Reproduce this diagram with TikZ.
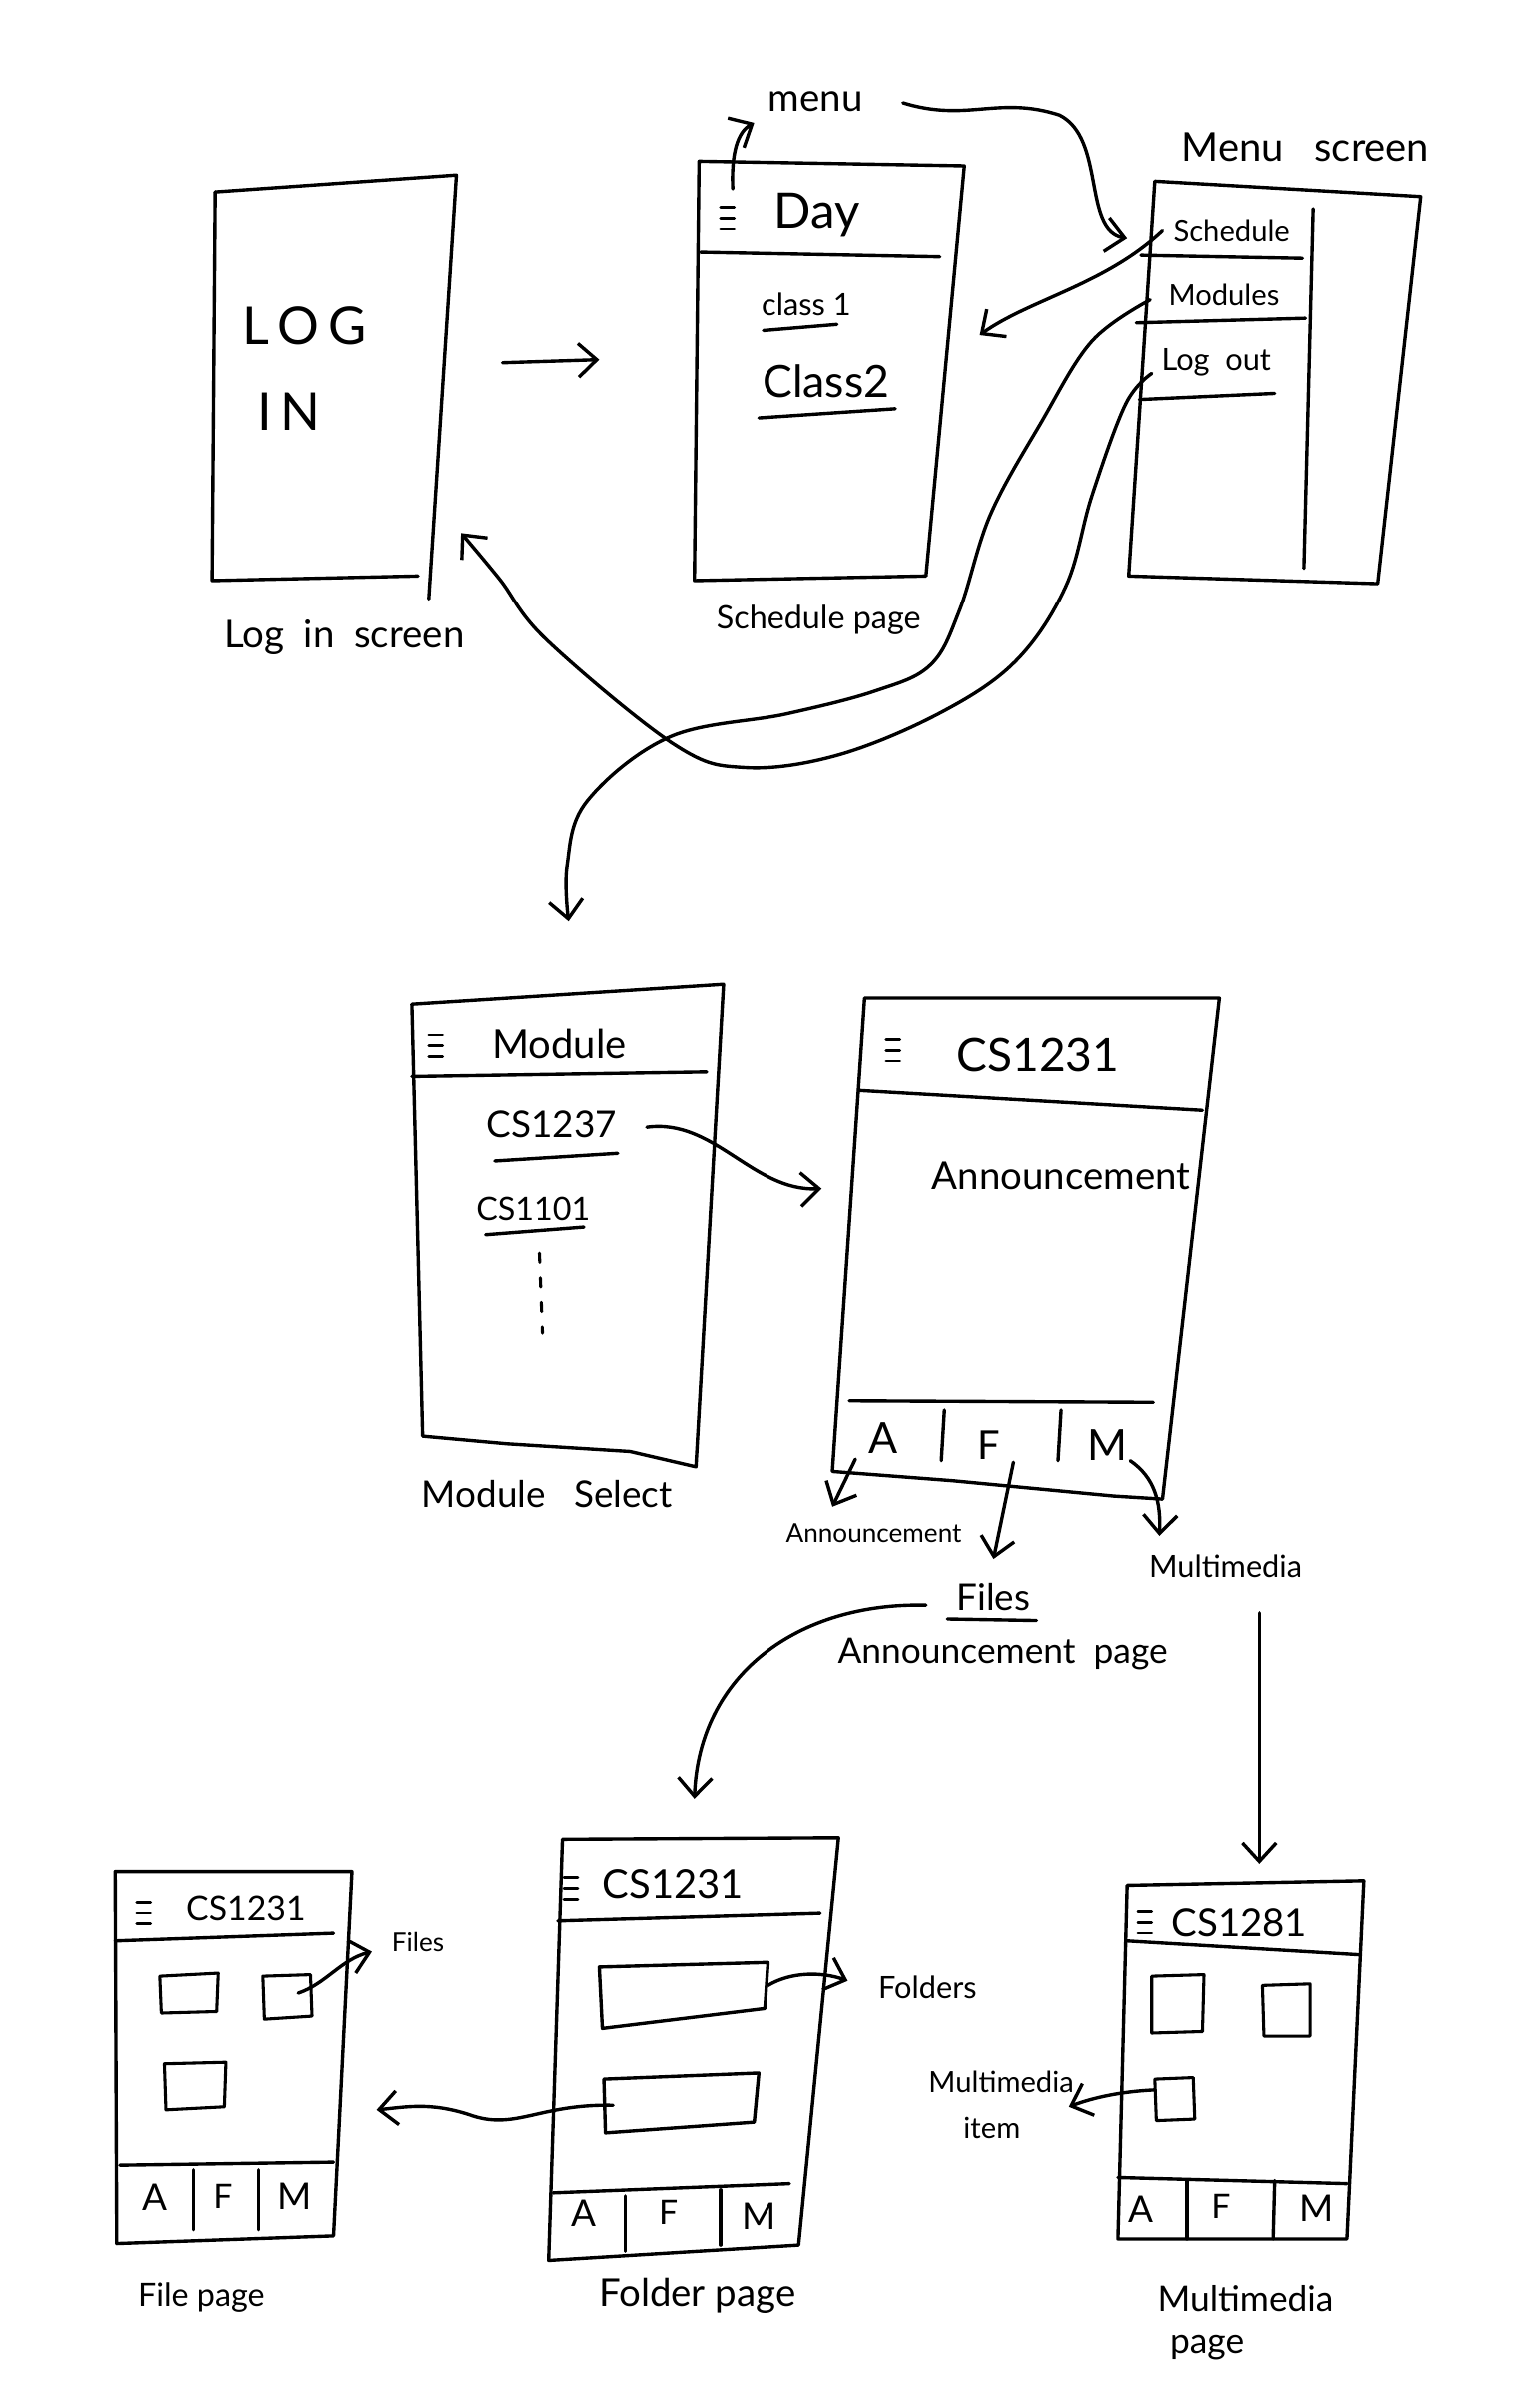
\documentclass[tikz,border=0pt]{standalone}
\usepackage{fontspec}
\setmainfont{Lato}
\usetikzlibrary{arrows.meta}
\begin{document}
\begin{tikzpicture}[x=0.5pt,y=-0.5pt,line width=1.1pt,line cap=round,line join=round,
  arr/.style={-{Straight Barb[length=6pt,width=11pt,line width=1.1pt]}},
  txt/.style={inner sep=0pt,anchor=center},
  fs/.style={font=\fontsize{#1}{#1}\selectfont},
  hamb/.pic={\draw[line width=0.9pt] (-4,-7)--(5,-7) (-4,0)--(5,0) (-4,7)--(5,7);},
  thin/.style={line width=1pt}]
\useasboundingbox[fill=white] (0,0) rectangle (999,1568);

% ---------- Log in screen ----------
\draw (140,125) -- (297,114) -- (279,390);
\draw (140,125) -- (138,378) -- (272,375);
\node[txt,fs=17] (log) at (198,212) {L\,O\,G};
\node[txt,fs=17] (in) at (188,268) {I\,N};
\node[txt,fs=12.5] (loginlbl) at (224,415) {Log\ \ in\ \ screen};

\coordinate (la1) at (327,236);
\coordinate (la2) at (390,234);
\draw[arr] (la1) -- (la2);

% ---------- Schedule page ----------
\draw (455,105) -- (628,108) -- (603,375) -- (452,378) -- cycle;
\draw (456,164) -- (612,167);
\pic at (473,142) {hamb};
\node[txt,fs=16] (day) at (532,140) {Day};
\node[txt,fs=10] (c1) at (525,198) {class 1};
\draw (497,215) -- (545,211);
\node[txt,fs=14.5] (c2) at (538,248) {Class2};
\draw (494,272) -- (583,266);
\node[txt,fs=10.5] (schedlbl) at (533,404) {Schedule page};

\node[txt,fs=12.5] (menulbl) at (531,66) {menu};
\coordinate (mh) at (477,123);
\coordinate (mt) at (491,80);
\draw[arr] (mh) .. controls (476,100) and (480,86) .. (mt);

\coordinate (mm1) at (588,67);
\coordinate (mm2) at (734,155);
\draw[arr] (mm1) .. controls (630,80) and (650,62) .. (690,75) .. controls (720,90) and (705,150) .. (mm2);

% ---------- Menu screen ----------
\draw (752,118) -- (925,128) -- (897,380) -- (735,375) -- cycle;
\draw (855,136) -- (849,370);
\node[txt,fs=9.5] (ms1) at (802,150) {Schedule};
\draw (743,166) -- (848,168);
\node[txt,fs=9.5] (ms2) at (797,192) {Modules};
\draw (740,210) -- (850,207);
\node[txt,fs=10] (ms3) at (792,236) {Log\ \ out};
\draw (742,260) -- (830,256);
\node[txt,fs=13] (menuscr) at (850,96) {Menu\ \ \ screen};

\coordinate (s1) at (757,150);
\coordinate (s2) at (638,218);
\draw[arr] (s1) .. controls (720,185) and (670,195) .. (s2);

\coordinate (md1) at (749,195);
\coordinate (md2) at (370,600);
\draw[arr] plot[smooth,tension=0.6] coordinates {(md1) (711,222) (678,275) (645,335) (625,397) (606,433) (570,450) (512,465) (436,480) (382,522) (369,564) (md2)};

\coordinate (lo1) at (750,243);
\coordinate (lo2) at (300,347);
\draw[arr] plot[smooth,tension=0.6] coordinates {(lo1) (733,263) (711,323) (694,382) (661,431) (611,465) (545,492) (485,500) (439,485) (356,417) (325,377) (lo2)};

% ---------- Module select ----------
\draw (268,654) -- (471,641) -- (453,955) -- (410,945) -- (330,940) -- (275,935) -- cycle;
\draw (268,701) -- (460,698);
\pic at (283,681) {hamb};
\node[txt,fs=13] (modh) at (364,680) {Module};
\node[txt,fs=12] (cs1237) at (359,732) {CS1237};
\draw (322,756) -- (402,751);
\node[txt,fs=10.5] (cs1101) at (347,787) {CS1101};
\draw (316,804) -- (380,799);
\draw[line width=1pt,dash pattern=on 3pt off 5pt] (351,816) -- (353,868);
\node[txt,fs=12] (modsel) at (356,973) {Module\ \ \ Select};

\coordinate (ca1) at (421,734);
\coordinate (ca2) at (535,774);
\draw[arr] (ca1) .. controls (465,728) and (490,776) .. (ca2);

% ---------- Announcement page ----------
\draw (563,650) -- (794,650) -- (757,976) -- (725,974) -- (620,964) -- (542,958) -- cycle;
\draw (559,710) -- (783,723);
\pic at (581,684) {hamb};
\node[txt,fs=15] (acs) at (676,687) {CS1231};
\node[txt,fs=12.5] (ann) at (691,766) {Announcement};
\draw (553,912) -- (751,913);
\draw (615,918) -- (613,951);
\draw (691,918) -- (689,951);
\node[txt,fs=14] (aA) at (575,936) {A};
\node[txt,fs=13] (aF) at (644,941) {F};
\node[txt,fs=14] (aM) at (721,941) {M};

\coordinate (aa1) at (557,950);
\coordinate (aa2) at (542,981);
\draw[arr] (aa1) -- (aa2);
\coordinate (af1) at (660,952);
\coordinate (af2) at (647,1015);
\draw[arr] (af1) -- (af2);
\coordinate (am1) at (736,951);
\coordinate (am2) at (755,1000);
\draw[arr] (am1) .. controls (752,962) and (756,978) .. (am2);

\node[txt,fs=8.5] (annsmall) at (569,998) {Announcement};
\node[txt,fs=10] (multsmall) at (798,1020) {Multimedia};
\node[txt,fs=12] (files) at (647,1040) {Files};
\draw (617,1054) -- (675,1055);
\node[txt,fs=11.5] (annpage) at (653,1077) {Announcement\ \ page};

\coordinate (fp1) at (603,1045);
\coordinate (fp2) at (452,1171);
\draw[arr] (fp1) .. controls (520,1043) and (455,1090) .. (fp2);

\coordinate (mp1) at (820,1050);
\coordinate (mp2) at (820,1214);
\draw[arr] (mp1) -- (mp2);

% ---------- File page ----------
\draw (75,1219) -- (229,1219) -- (217,1456) -- (76,1461) -- cycle;
\draw (75,1264) -- (217,1259);
\pic at (93,1246) {hamb};
\node[txt,fs=11] (fcs) at (160,1243) {CS1231};
\draw[thin] (104,1287) -- (142,1285) -- (141,1310) -- (105,1311) -- cycle;
\draw[thin] (171,1287) -- (202,1286) -- (203,1313) -- (172,1315) -- cycle;
\draw[thin] (107,1344) -- (147,1343) -- (146,1372) -- (108,1374) -- cycle;
\draw (78,1410) -- (217,1408);
\draw (126,1413) -- (126,1452);
\draw (168,1413) -- (168,1452);
\node[txt,fs=12] (fA) at (101,1431) {A};
\node[txt,fs=11] (fF) at (145,1430) {F};
\node[txt,fs=12] (fM) at (192,1430) {M};
\coordinate (ff1) at (194,1298);
\coordinate (ff2) at (242,1271);
\draw[arr] (ff1) .. controls (212,1292) and (222,1276) .. (ff2);
\node[txt,fs=8.5] (fileslbl) at (272,1265) {Files};
\node[txt,fs=10.5] (filepage) at (131,1496) {File\ page};

% ---------- Folder page ----------
\draw (366,1198) -- (546,1197) -- (520,1462) -- (357,1472) -- cycle;
\draw (363,1251) -- (534,1246);
\pic at (371,1230) {hamb};
\node[txt,fs=13] (focs) at (438,1227) {CS1231};
\draw (390,1281) -- (500,1278) -- (498,1308) -- (392,1321) -- cycle;
\draw (393,1354) -- (494,1350) -- (491,1382) -- (394,1389) -- cycle;
\draw (360,1428) -- (514,1422);
\draw (407,1430) -- (407,1466);
\draw (469,1426) -- (469,1462);
\node[txt,fs=12] (foA) at (380,1441) {A};
\node[txt,fs=11] (foF) at (435,1441) {F};
\node[txt,fs=12] (foM) at (494,1443) {M};
\coordinate (fo1) at (500,1293);
\coordinate (fo2) at (552,1290);
\draw[arr] (fo1) .. controls (515,1284) and (535,1284) .. (fo2);
\node[txt,fs=10] (folderslbl) at (604,1294) {Folders};
\coordinate (fl1) at (399,1371);
\coordinate (fl2) at (245,1374);
\draw[arr] (fl1) .. controls (350,1370) and (335,1388) .. (305,1377) .. controls (280,1369) and (265,1372) .. (fl2);
\node[txt,fs=12.5] (folderpage) at (454,1495) {Folder\ page};

% ---------- Multimedia page ----------
\draw (734,1228) -- (888,1225) -- (877,1458) -- (728,1458) -- cycle;
\draw (734,1264) -- (885,1273);
\pic at (745,1252) {hamb};
\node[txt,fs=12.5] (mcs) at (807,1252) {CS1281};
\draw[thin] (750,1287) -- (784,1286) -- (783,1323) -- (750,1324) -- cycle;
\draw[thin] (822,1293) -- (853,1292) -- (853,1326) -- (823,1326) -- cycle;
\draw[thin] (752,1354) -- (777,1353) -- (778,1380) -- (753,1381) -- cycle;
\draw (728,1418) -- (877,1422);
\draw (773,1420) -- (773,1458);
\draw (830,1420) -- (829,1458);
\node[txt,fs=12] (mA) at (743,1439) {A};
\node[txt,fs=11] (mF) at (795,1437) {F};
\node[txt,fs=12] (mM) at (857,1438) {M};
\coordinate (mi1) at (752,1361);
\coordinate (mi2) at (696,1372);
\draw[arr] (mi1) .. controls (730,1362) and (712,1366) .. (mi2);
\node[txt,fs=9.5] (mitem1) at (652,1356) {Multimedia};
\node[txt,fs=9.5] (mitem2) at (646,1386) {item};
\node[txt,fs=11.5] (mpage1) at (811,1497) {Multimedia};
\node[txt,fs=11.5] (mpage2) at (786,1529) {page};
\end{tikzpicture}
\end{document}
